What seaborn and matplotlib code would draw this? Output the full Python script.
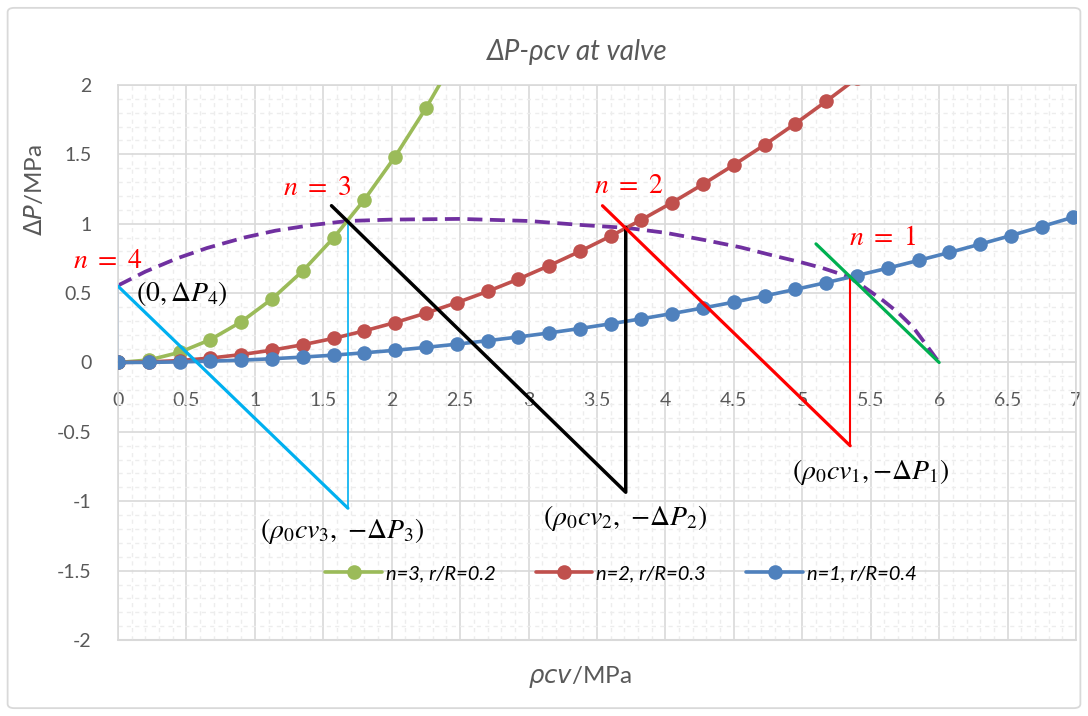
import matplotlib
matplotlib.use("Agg")
import matplotlib.pyplot as plt
import seaborn as sns
import pandas as pd
from matplotlib.ticker import MultipleLocator, FuncFormatter
from matplotlib.patches import FancyBboxPatch

# ---------------- data ----------------
rho_cv = [0, 0.225, 0.45, 0.675, 0.9, 1.125, 1.35, 1.575, 1.8, 2.025, 2.25, 2.475,
          2.7, 2.925, 3.15, 3.375, 3.6, 3.825, 4.05, 4.275, 4.5, 4.725, 4.95, 5.175,
          5.4, 5.625, 5.85, 6.075, 6.3, 6.525, 6.75, 6.975]
dp_n1 = [0, 0.001, 0.004, 0.010, 0.017, 0.027, 0.039, 0.053, 0.070, 0.088, 0.109, 0.132,
         0.157, 0.184, 0.213, 0.245, 0.279, 0.315, 0.353, 0.393, 0.435, 0.480, 0.527, 0.576,
         0.627, 0.680, 0.736, 0.793, 0.853, 0.915, 0.980, 1.046]
dp_n2 = [0, 0.004, 0.014, 0.032, 0.057, 0.089, 0.128, 0.174, 0.228, 0.288, 0.356, 0.431,
         0.512, 0.601, 0.698, 0.801, 0.911, 1.029, 1.153, 1.285, 1.424, 1.569, 1.722, 1.883,
         2.050]
dp_n3 = [0, 0.018, 0.073, 0.165, 0.293, 0.458, 0.660, 0.898, 1.173, 1.484, 1.833, 2.217]

series_labels = ["n=3, r/R=0.2", "n=2, r/R=0.3", "n=1, r/R=0.4"]

# dashed envelope curve
env_x = [0, 0.2, 0.43, 0.65, 0.92, 1.15, 1.41, 1.68, 2.0, 2.5, 3.0, 3.4, 3.72, 4.0,
         4.3, 4.55, 4.79, 5.0, 5.15, 5.35, 5.59, 5.7, 5.81, 5.9, 6.0]
env_y = [0.555, 0.655, 0.75, 0.825, 0.90, 0.95, 0.99, 1.02, 1.03, 1.035, 1.02, 0.99, 0.97, 0.935,
         0.88, 0.83, 0.77, 0.72, 0.68, 0.615, 0.447, 0.36, 0.254, 0.135, 0.0]

# characteristic construction lines
cyan_x, cyan_y = [0, 1.68], [0.55, -1.05]
cyanv_x, cyanv_y = [1.68, 1.68], [-1.05, 1.02]
axisv_x, axisv_y = [0, 0], [0, 0.55]
black_x, black_y = [1.56, 3.71, 3.71], [1.13, -0.935, 0.975]
red_x, red_y = [3.54, 5.35], [1.13, -0.60]
redv_x, redv_y = [5.35, 5.35], [-0.60, 0.615]
green_x, green_y = [5.10, 6.0], [0.855, 0.0]

x_ticks = [0, 0.5, 1, 1.5, 2, 2.5, 3, 3.5, 4, 4.5, 5, 5.5, 6, 6.5, 7]
y_ticks = [-2, -1.5, -1, -0.5, 0, 0.5, 1, 1.5, 2]

# ---------------- style ----------------
sns.set_theme(style="white")
plt.rcParams["font.family"] = ["Lato", "DejaVu Sans"]
plt.rcParams["axes.unicode_minus"] = False
plt.rcParams["mathtext.fontset"] = "dejavusans"

C_GREEN = "#9BBB59"
C_RED = "#C0504D"
C_BLUE = "#4F81BD"
C_PURPLE = "#7030A0"
C_TXT = "#595959"

fig = plt.figure(figsize=(10.88, 7.16), dpi=100)
ax = fig.add_axes([118 / 1088, 1 - 640 / 716, 958 / 1088, 555 / 716])

# chart border
fig.patches.append(FancyBboxPatch((0.007, 0.011), 0.986, 0.978, boxstyle="round,pad=0,rounding_size=0.006",
                                  transform=fig.transFigure, fill=False, edgecolor="#D9D9D9", lw=1.3))

# envelope
sns.lineplot(x=env_x, y=env_y, ax=ax, color=C_PURPLE, lw=2.7, sort=False, zorder=2)
ax.lines[-1].set_dashes((4.0, 2.0))

# series
df = pd.DataFrame({"x": rho_cv[:len(dp_n3)], "y": dp_n3})
sns.lineplot(data=df, x="x", y="y", ax=ax, color=C_GREEN, lw=2.6, marker="o", markersize=10.5,
             markeredgewidth=0, zorder=3, label=series_labels[0])
df = pd.DataFrame({"x": rho_cv[:len(dp_n2)], "y": dp_n2})
sns.lineplot(data=df, x="x", y="y", ax=ax, color=C_RED, lw=2.6, marker="o", markersize=10.5,
             markeredgewidth=0, zorder=3, label=series_labels[1])
df = pd.DataFrame({"x": rho_cv, "y": dp_n1})
sns.lineplot(data=df, x="x", y="y", ax=ax, color=C_BLUE, lw=2.6, marker="o", markersize=10.5,
             markeredgewidth=0, zorder=3, label=series_labels[2])

# construction lines
ax.plot(axisv_x, axisv_y, color=C_BLUE, lw=1.2, zorder=2.5)
ax.plot(cyan_x, cyan_y, color="#00B0F0", lw=2.3, zorder=4)
ax.plot(cyanv_x, cyanv_y, color="#00B0F0", lw=1.2, zorder=4)
ax.plot(black_x, black_y, color="black", lw=2.5, zorder=4)
ax.plot(red_x, red_y, color="#FF0000", lw=2.3, zorder=4)
ax.plot(redv_x, redv_y, color="#FF0000", lw=1.5, zorder=4)
ax.plot(green_x, green_y, color="#00B050", lw=2.3, zorder=4)

# axes
ax.set_xlim(0, 7)
ax.set_ylim(-2, 2)
ax.set_xticks(x_ticks)
ax.set_yticks(y_ticks)
ax.xaxis.set_minor_locator(MultipleLocator(0.1))
ax.yaxis.set_minor_locator(MultipleLocator(0.1))
fmt = FuncFormatter(lambda v, p: f"{v:g}")
ax.xaxis.set_major_formatter(fmt)
ax.yaxis.set_major_formatter(fmt)
ax.grid(which="major", color="#D9D9D9", lw=1.2, zorder=0)
ax.grid(which="minor", color="#EDEDED", lw=1.0, ls=(0, (3, 3)), zorder=0)
ax.set_axisbelow(True)
for s in ["left", "right", "top"]:
    ax.spines[s].set_color("#D9D9D9")
    ax.spines[s].set_linewidth(1.2)
ax.spines["bottom"].set_position(("data", 0))
ax.spines["bottom"].set_color("#D9D9D9")
ax.spines["bottom"].set_linewidth(1.2)
ax.axhline(-2, color="#D9D9D9", lw=1.5, clip_on=False, zorder=0)
ax.tick_params(axis="both", which="both", length=0, labelsize=14, labelcolor=C_TXT)
ax.tick_params(axis="x", pad=21)
ax.tick_params(axis="y", pad=19)
ax.set_xlabel("")
ax.set_ylabel("")

# legend
h, l = ax.get_legend_handles_labels()
ax.legend(h, l, loc="center", bbox_to_anchor=(0.525, 0.12), ncol=3, frameon=False,
          prop={"style": "italic", "size": 14.5}, handlelength=2.8, columnspacing=2.0,
          handletextpad=0.2, labelcolor="black")

# titles
fig.text(0.531, 0.927, "ΔP-ρcv at valve", ha="center", va="center", fontsize=20,
         style="italic", color=C_TXT)
fig.text(0.533, 0.054, r"$\rho cv$/MPa", ha="center", va="center", fontsize=17.5, color=C_TXT)
fig.text(0.032, 0.735, r"$\Delta P$/MPa", ha="center", va="center", fontsize=17.5, color=C_TXT,
         rotation=90)

# annotations
red_kw = dict(color="#FF0000", fontsize=20, ha="center", va="center", math_fontfamily="stix")
blk_kw = dict(color="black", fontsize=20, ha="center", va="center", math_fontfamily="stix")
ax.text(-0.077, 0.739, r"$n\ =\ 4$", clip_on=False, **red_kw)
ax.text(1.457, 1.265, r"$n\ =\ 3$", **red_kw)
ax.text(3.729, 1.279, r"$n\ =\ 2$", **red_kw)
ax.text(5.584, 0.904, r"$n\ =\ 1$", **red_kw)
ax.text(0.128, 0.50, r"$(0,\Delta P_4)$", color="black", fontsize=20, ha="left", va="center",
        math_fontfamily="stix")
ax.text(1.64, -1.214, r"$(\rho_0 c v_3,\ {-}\Delta P_3)$", **blk_kw)
ax.text(3.707, -1.121, r"$(\rho_0 c v_2,\ {-}\Delta P_2)$", **blk_kw)
ax.text(5.497, -0.789, r"$(\rho_0 c v_1,{-}\Delta P_1)$", **blk_kw)

fig.savefig("out.png", dpi=100)
